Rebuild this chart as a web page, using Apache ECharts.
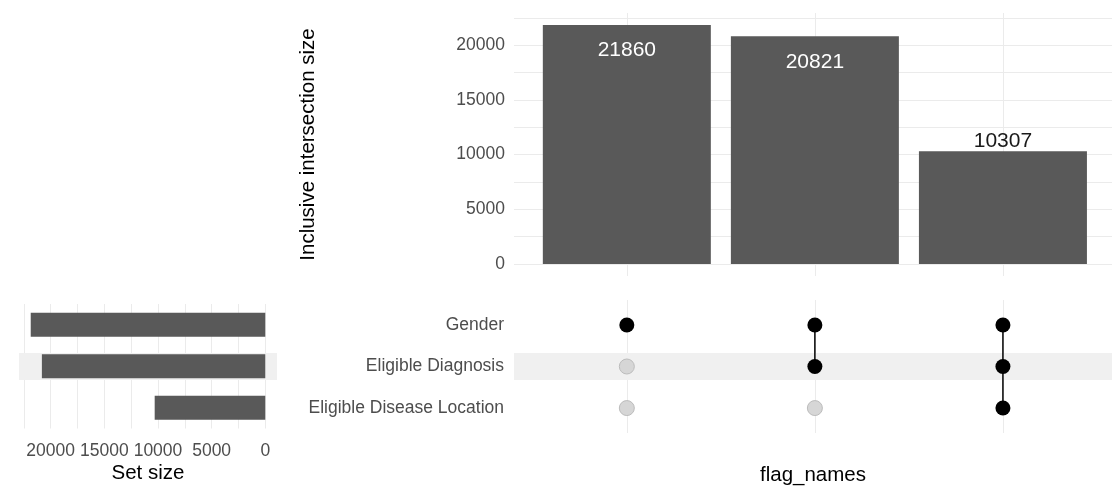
<!DOCTYPE html>
<html><head><meta charset="utf-8">
<script src="https://cdn.jsdelivr.net/npm/echarts@6/dist/echarts.min.js"></script>
<style>html,body{margin:0;padding:0;background:#fff}#c{width:1112px;height:495px}</style>
</head><body><div id="c"></div>
<script>
const setNames = ['Gender', 'Eligible Diagnosis', 'Eligible Disease Location'];
const setSizes = [21860, 20821, 10307];
const intersectionSizes = [21860, 20821, 10307];
// membership per intersection column, in the order of setNames
const membership = [
  [1, 0, 0],
  [1, 1, 0],
  [1, 1, 1]
];
const countLabelTicks = [0, 5000, 10000, 15000, 20000];
const countGridTicks = [0, 2500, 5000, 7500, 10000, 12500, 15000, 17500, 20000, 22500];
const xTitle = 'flag_names';
const yTitle = 'Inclusive intersection size';
const setTitle = 'Set size';

const FONT = '"Liberation Sans", Arial, sans-serif';
const GRID_COLOR = '#ebebeb';
const STRIPE_COLOR = '#f0f0f0';
const BAR_COLOR = '#595959';
const TICK_COLOR = '#4d4d4d';

const cols = intersectionSizes.map((_, i) => i + 1);
const topMax = Math.max(...intersectionSizes);
const topPad = topMax * 0.05;
const setMax = Math.max(...setSizes);
const setPad = setMax * 0.05;

const chart = echarts.init(document.getElementById('c'), null, {renderer: 'canvas'});

const gridLineStyle = {color: GRID_COLOR, width: 1, type: 'solid'};
function gridSeries(xi, yi, data) {
  return {
    type: 'line', xAxisIndex: xi, yAxisIndex: yi, data: [], silent: true, z: 0,
    markLine: {
      z: 0, silent: true, animation: false, symbol: ['none', 'none'],
      label: {show: false}, emphasis: {disabled: true},
      lineStyle: gridLineStyle, data: data
    }
  };
}

const series = [];
// top panel gridlines
series.push(gridSeries(0, 0,
  countGridTicks.map(v => ({yAxis: v})).concat(cols.map(c => ({xAxis: c})))));
// top bars
series.push({
  type: 'bar', xAxisIndex: 0, yAxisIndex: 0, barWidth: 168, z: 2,
  itemStyle: {color: BAR_COLOR},
  data: intersectionSizes.map((v, i) => {
    const inside = v > topMax * 0.5;
    return {
      value: [cols[i], v],
      label: {
        show: true, position: inside ? 'insideTop' : 'top',
        distance: inside ? 15 : 0,
        color: inside ? '#ffffff' : '#1a1a1a',
        fontSize: 21, fontFamily: FONT
      }
    };
  })
});
// matrix gridlines
series.push(gridSeries(1, 1, cols.map(c => ({xAxis: c}))));
// matrix stripes
series.push({
  type: 'line', xAxisIndex: 1, yAxisIndex: 1, data: [], silent: true, z: 1,
  markArea: {
    z: 1, silent: true, animation: false, label: {show: false},
    itemStyle: {color: STRIPE_COLOR},
    data: setNames.map((n, r) => r).filter(r => r % 2 === 1)
      .map(r => [{yAxis: r + 1 - 0.325}, {yAxis: r + 1 + 0.325}])
  }
});
// membership connecting lines
membership.forEach((m, i) => {
  const rows = m.map((f, r) => f ? r + 1 : null).filter(r => r !== null);
  if (rows.length > 1) {
    series.push({
      type: 'line', xAxisIndex: 1, yAxisIndex: 1, z: 2, silent: true,
      symbol: 'none', lineStyle: {color: '#000', width: 1.5},
      data: [[cols[i], Math.min(...rows)], [cols[i], Math.max(...rows)]]
    });
  }
});
const filled = [], empty = [];
membership.forEach((m, i) => m.forEach((f, r) => (f ? filled : empty).push([cols[i], r + 1])));
series.push({
  type: 'scatter', xAxisIndex: 1, yAxisIndex: 1, z: 3, silent: true,
  symbolSize: 15, itemStyle: {color: '#000000', opacity: 1}, data: filled
});
series.push({
  type: 'scatter', xAxisIndex: 1, yAxisIndex: 1, z: 3, silent: true,
  symbolSize: 15, itemStyle: {color: '#d6d6d6', borderColor: '#bcbcbc', borderWidth: 1, opacity: 1}, data: empty
});
// left panel gridlines
series.push(gridSeries(2, 2, countGridTicks.map(v => ({xAxis: v}))));
// left panel stripe
series.push({
  type: 'line', xAxisIndex: 2, yAxisIndex: 2, data: [], silent: true, z: 1,
  markLine: {
    z: 1, silent: true, animation: false, symbol: ['none', 'none'],
    label: {show: false}, emphasis: {disabled: true},
    lineStyle: {color: STRIPE_COLOR, width: 27, type: 'solid'},
    data: setNames.filter((n, r) => r % 2 === 1).map(n => ({yAxis: n}))
  }
});
// set size bars
series.push({
  type: 'bar', xAxisIndex: 2, yAxisIndex: 2, barWidth: 24, z: 2,
  itemStyle: {color: BAR_COLOR}, data: setSizes
});

const hidden = {axisLine: {show: false}, axisTick: {show: false}, splitLine: {show: false}};
const tickText = {color: TICK_COLOR, fontSize: 17.5, fontFamily: FONT};
const titleText = {color: '#000000', fontSize: 20.5, fontFamily: FONT};

chart.setOption({
  animation: false,
  backgroundColor: '#ffffff',
  grid: [
    {left: 514, right: 0, top: 13, height: 263},
    {left: 514, right: 0, top: 300, height: 133},
    {left: 19, width: 258, top: 304, height: 124.5}
  ],
  xAxis: [
    Object.assign({gridIndex: 0, type: 'value', min: 0.4, max: 3.58, axisLabel: {show: false}}, hidden),
    Object.assign({gridIndex: 1, type: 'value', min: 0.4, max: 3.58, axisLabel: {show: false},
      name: xTitle, nameLocation: 'middle', nameGap: 32, nameTextStyle: titleText}, hidden),
    Object.assign({gridIndex: 2, type: 'value', min: -setPad, max: setMax + setPad, inverse: true,
      axisLabel: Object.assign({customValues: countLabelTicks, margin: 14, formatter: v => String(v)}, tickText),
      name: setTitle, nameLocation: 'middle', nameGap: 34, nameTextStyle: titleText}, hidden)
  ],
  yAxis: [
    Object.assign({gridIndex: 0, type: 'value', min: -topPad, max: topMax + topPad,
      axisLabel: Object.assign({customValues: countLabelTicks, margin: 9, formatter: v => String(v)}, tickText),
      name: yTitle, nameLocation: 'middle', nameGap: 195, nameRotate: 90, nameTextStyle: titleText}, hidden),
    Object.assign({gridIndex: 1, type: 'value', min: 0.4, max: 3.6, inverse: true,
      axisLabel: Object.assign({customValues: setNames.map((n, i) => i + 1), margin: 10,
        formatter: v => setNames[Math.round(v) - 1]}, tickText)}, hidden),
    Object.assign({gridIndex: 2, type: 'category', data: setNames, inverse: true,
      axisLabel: {show: false}}, hidden)
  ],
  series: series
});
</script>
</body></html>
